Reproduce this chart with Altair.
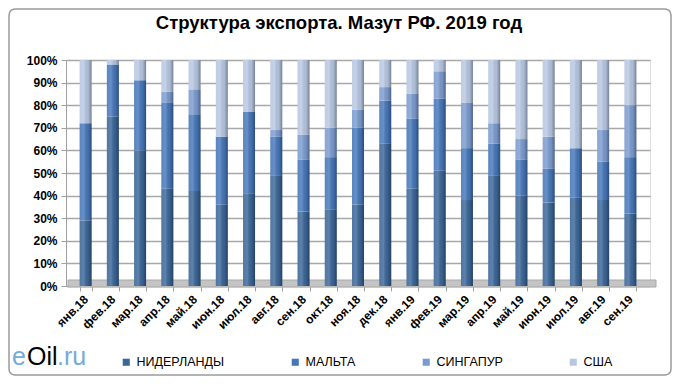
import altair as alt
import pandas as pd

months = ["янв.18", "фев.18", "мар.18", "апр.18", "май.18", "июн.18", "июл.18",
          "авг.18", "сен.18", "окт.18", "ноя.18", "дек.18", "янв.19", "фев.19",
          "мар.19", "апр.19", "май.19", "июн.19", "июл.19", "авг.19", "сен.19"]
series = ["НИДЕРЛАНДЫ", "МАЛЬТА", "СИНГАПУР", "США"]
netherlands = [29, 75, 60, 43, 42, 36, 41, 49, 33, 34, 36, 63, 43, 51, 38, 49, 40, 37, 39, 38, 32]
malta       = [43, 23, 31, 38, 34, 30, 36, 17, 23, 23, 34, 19, 31, 32, 23, 14, 16, 15, 22, 17, 25]
singapore   = [0,  0,  0,  5,  11, 0,  0,  3,  11, 13, 8,  6,  11, 12, 20, 9,  9,  14, 0,  14, 23]
usa         = [28, 2,  9,  14, 13, 34, 23, 31, 33, 30, 22, 12, 15, 5,  19, 28, 35, 34, 39, 31, 20]
colors = ["#3b6698", "#4677b9", "#7b9bcf", "#b7c7e2"]
title_text = "Структура экспорта. Мазут РФ. 2019 год"

rows = []
for i, m in enumerate(months):
    for k, (s, vals) in enumerate(zip(series, [netherlands, malta, singapore, usa])):
        rows.append({"month": m, "series": s, "value": vals[i], "order": k})
df = pd.DataFrame(rows)
one = pd.DataFrame({"a": [0]})

F = "Liberation Sans"
W, H = 584, 226

xscale = alt.Scale(paddingInner=0.56, paddingOuter=0.5)
xaxis = alt.Axis(title=None, labelAngle=-45, labelAlign="right",
                 labelBaseline="middle", labelFont=F, labelFontSize=12,
                 labelFontWeight="bold", labelColor="black",
                 tickBand="extent", domainColor="#a0a0a0",
                 tickColor="#a0a0a0", tickSize=5, labelPadding=6,
                 grid=False)
yscale = alt.Scale(domain=[0, 1])
yaxis = alt.Axis(title=None, format=".0%",
                 values=[i / 10 for i in range(11)],
                 labelFont=F, labelFontSize=12, labelFontWeight="bold",
                 labelColor="black", grid=True, gridColor="#a8a8a8",
                 gridWidth=1.5, domainColor="#a0a0a0",
                 tickColor="#a0a0a0", tickSize=5, labelPadding=4)

border = alt.Chart(one).mark_rect(fill=None, stroke="#9a9a9a", strokeWidth=1.5,
                                  cornerRadius=6).encode(
    x=alt.value(-57), x2=alt.value(605), y=alt.value(-51), y2=alt.value(315))

floor = alt.Chart(one).mark_rect(color="#c4c4c4", stroke="#a8a8a8").encode(
    x=alt.value(2), x2=alt.value(590), y=alt.value(220), y2=alt.value(227))

stacked = alt.Chart(df).transform_stack(
    stack="value", as_=["y0", "y1"], groupby=["month"],
    sort=[alt.SortField("order", order="ascending")], offset="normalize")

bars = stacked.mark_bar().encode(
    x=alt.X("month:N", sort=months, scale=xscale, axis=xaxis),
    y=alt.Y("y0:Q", scale=yscale, axis=yaxis),
    y2="y1:Q",
    color=alt.Color("series:N", sort=series,
                    scale=alt.Scale(domain=series, range=colors),
                    legend=alt.Legend(title=None, orient="none", legendX=54,
                                      legendY=296, direction="horizontal",
                                      columns=4, gridAlign="none",
                                      columnPadding=64, symbolType="square",
                                      symbolSize=50, labelFont=F,
                                      labelFontSize=12.5, labelColor="black",
                                      padding=0, symbolStrokeWidth=0)),
)

grad = alt.Gradient(
    gradient="linear", x1=0, x2=1, y1=0, y2=0,
    stops=[alt.GradientStop(color="rgba(255,255,255,0.10)", offset=0),
           alt.GradientStop(color="rgba(255,255,255,0.18)", offset=0.35),
           alt.GradientStop(color="rgba(0,0,0,0.05)", offset=0.7),
           alt.GradientStop(color="rgba(0,0,0,0.35)", offset=1)])
shade = stacked.mark_bar(color=grad).encode(
    x=alt.X("month:N", sort=months, scale=xscale, axis=xaxis),
    y=alt.Y("y0:Q", scale=yscale, axis=yaxis),
    y2="y1:Q",
)

title = alt.Chart(one).mark_text(text=title_text, font=F, fontSize=18.5,
                                 fontWeight="bold", align="center",
                                 baseline="alphabetic", color="black").encode(
    x=alt.value(273), y=alt.value(-31))

logo_e = alt.Chart(one).mark_text(text="e", font=F, fontSize=25, color="#74abd9",
                                  align="left", baseline="alphabetic").encode(
    x=alt.value(-54), y=alt.value(305))
logo_oil = alt.Chart(one).mark_text(text="Oil", font=F, fontSize=25, color="black",
                                    align="left", baseline="alphabetic").encode(
    x=alt.value(-39), y=alt.value(305))
logo_ru = alt.Chart(one).mark_text(text=".ru", font=F, fontSize=25, color="#74abd9",
                                   align="left", baseline="alphabetic").encode(
    x=alt.value(-9), y=alt.value(305))

chart = alt.layer(border, floor, bars, shade, title, logo_e, logo_oil, logo_ru).properties(
    width=W, height=H,
    autosize=alt.AutoSizeParams(type="none"),
    padding={"left": 58, "top": 52, "right": 22, "bottom": 90},
).configure_view(stroke=None).configure(background="white")

chart.save("out.html", embed_options={"renderer": "svg", "actions": False})
